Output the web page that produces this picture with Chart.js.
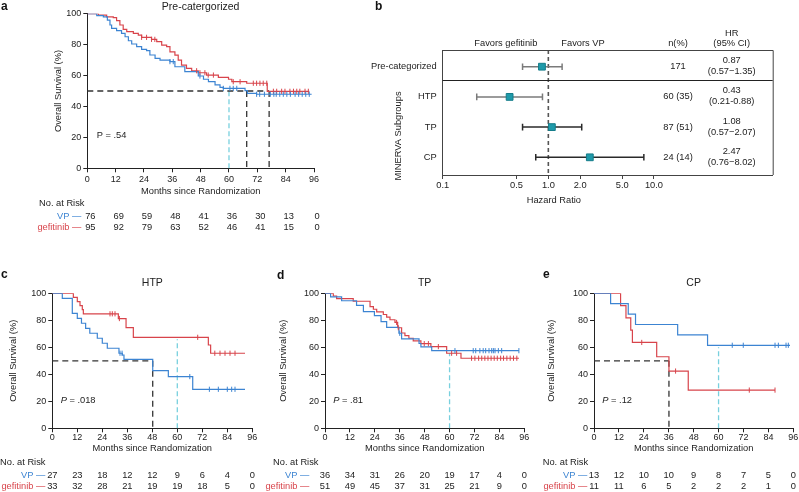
<!DOCTYPE html>
<html><head><meta charset="utf-8">
<script src="https://cdn.jsdelivr.net/npm/chart.js@4.4.1/dist/chart.umd.min.js"></script>
<style>
html,body{margin:0;padding:0;background:#fff;}
#wrap{position:relative;width:799px;height:492px;overflow:hidden;font-family:"Liberation Sans",Arial,sans-serif;}
canvas{position:absolute;}
.lbl{position:absolute;font-weight:bold;font-size:12px;color:#111;line-height:12px;}
</style></head><body>
<div id="wrap">
<canvas id="ca" width="360" height="240" style="left:0;top:0"></canvas>
<canvas id="cb" width="439" height="215" style="left:360px;top:0"></canvas>
<canvas id="cc" width="265" height="237" style="left:0;top:255px"></canvas>
<canvas id="cd" width="267" height="237" style="left:265px;top:255px"></canvas>
<canvas id="ce" width="267" height="237" style="left:532px;top:255px"></canvas>
<div class="lbl" style="left:1px;top:0px">a</div>
<div class="lbl" style="left:375px;top:0px">b</div>
<div class="lbl" style="left:1px;top:268px">c</div>
<div class="lbl" style="left:277px;top:269px">d</div>
<div class="lbl" style="left:543px;top:268px">e</div>
</div>
<script>
// ---------- DATA ----------
const riskMonths = [0, 12, 24, 36, 48, 60, 72, 84, 96];

// Panel a: Pre-categorized
const aVpTime  = [0, 4, 6.8, 8.5, 9.6, 10.3, 12.4, 14.5, 16, 17.4, 18.8, 20.9, 23, 25.1, 26.5, 28.7, 30.8, 35, 37.1, 41.3, 47, 49.2, 51.3, 54.1, 56.2, 57.6, 66.8, 67.8, 71.7, 95];
const aVpSurv  = [100, 98.7, 98, 95.9, 92.7, 90.5, 89, 87.3, 85.1, 82.5, 80.4, 78.7, 76.9, 76.1, 73.3, 71.1, 70, 69, 65.7, 62.5, 59.7, 57.6, 56, 53.9, 52.4, 51.7, 50.2, 48.5, 47.9, 47.9];
const aVpCens  = [35, 36.4, 47.7, 57.6, 60.4, 61.8, 63.3, 71.7, 73, 75, 77.5, 79, 80, 81.5, 83, 84.5, 86, 88, 89.5, 91, 92.5, 94];
const aGefTime = [0, 4.7, 8.2, 11, 12.4, 13.8, 15.2, 16.7, 19.5, 21.6, 23, 27.2, 29.4, 31.5, 33.6, 35, 37.1, 38.5, 39.9, 42, 44.2, 47, 50.5, 55.5, 59.8, 61.2, 67.5, 76.2, 94];
const aGefSurv = [100, 99.1, 98, 97.4, 95.5, 92.7, 89.9, 88.4, 87.3, 86.2, 84.7, 83.4, 81.9, 79.7, 78.7, 75.3, 73.2, 70, 66.8, 64.6, 63.1, 61.8, 60.3, 58.8, 57.6, 56, 55, 49.8, 49.8];
const aGefCens = [23, 25.1, 27.2, 28.6, 46.3, 47.7, 49.8, 51.2, 53.4, 61.8, 64.7, 70.3, 71.7, 73.1, 74.5, 76, 78.8, 80.2, 82.3, 83.7, 85.8, 87.3, 88.7, 90, 92.2, 93.6];
const aMedians = [67.5, 77];
const aFiveYearTop = 51.7;
const aRiskVP  = [76, 69, 59, 48, 41, 36, 30, 13, 0];
const aRiskGef = [95, 92, 79, 63, 52, 46, 41, 15, 0];

// Panel c: HTP
const cVpTime  = [0, 4.8, 9.6, 12, 14, 16, 18, 21.6, 24, 26.4, 32, 33.6, 34.4, 48.2, 55.7, 67.4, 92.5];
const cVpSurv  = [100, 96.3, 85.2, 81.5, 77.8, 74, 70.4, 66.7, 63, 59.3, 55.6, 54.3, 51.1, 42.7, 38.3, 28.9, 28.9];
const cVpCens  = [32.5, 33.5, 66, 75.4, 79.7, 84, 86.1, 87.7];
const cGefTime = [0, 10.1, 12, 13.3, 14.4, 14.9, 31.7, 35.4, 38.9, 74.9, 76, 92.5];
const cGefSurv = [100, 97, 93.9, 90.9, 87.9, 84.8, 81.3, 74.6, 67.4, 61.7, 55.6, 55.6];
const cGefCens = [27.7, 28.8, 30.1, 32.2, 69.8, 78, 80.5, 82.9, 85.3, 87.7];
const cMedians = [48.2];
const cFiveYearTop = 66;
const cRiskVP  = [27, 23, 18, 12, 12, 9, 6, 4, 0];
const cRiskGef = [33, 32, 28, 21, 19, 19, 18, 5, 0];

// Panel d: TP
const dVpTime  = [0, 2.7, 8, 15.2, 18.5, 23.8, 27, 29.7, 35.6, 36.9, 45.3, 46.2, 51.4, 93.4];
const dVpSurv  = [100, 97.3, 94.5, 91.0, 86.4, 83.5, 79.0, 74.8, 70.4, 66.2, 62.8, 60.3, 57.5, 57.5];
const dVpCens  = [36, 62.6, 71.4, 72.6, 74.6, 76.2, 77.4, 79, 80.3, 81.1, 81.9, 83.5, 85.1, 93.4];
const dGefTime = [0, 4, 5.6, 13.6, 21.7, 23.3, 24.9, 28.1, 29.7, 31.3, 33.7, 35, 36.9, 38.5, 40.4, 42.5, 46.2, 51, 58.6, 65.5, 93.4];
const dGefSurv = [100, 98, 96.1, 94.1, 90.2, 88.2, 86.3, 84.3, 82.4, 80.4, 78.4, 74.5, 70.6, 68.6, 66.7, 64.7, 62.7, 60.5, 55.6, 51.9, 51.9];
const dGefCens = [34.5, 35.3, 47.8, 49.8, 54.6, 61, 63.4, 70.6, 72.2, 74, 75.5, 77, 78.5, 80, 81.5, 83, 84.6, 86, 87.6, 89.2, 90.8, 92.4];
const dMedians = [];
const dFiveYearTop = 55.6;
const dRiskVP  = [36, 34, 31, 26, 20, 19, 17, 4, 0];
const dRiskGef = [51, 49, 45, 37, 31, 25, 21, 9, 0];

// Panel e: CP
const eVpTime  = [0, 8, 16.5, 20, 40.3, 54.7, 94.4];
const eVpSurv  = [100, 92.3, 84.6, 76.9, 69.2, 61.5, 61.5];
const eVpCens  = [66.6, 71.9, 87.2, 88.8, 92.5, 93.6];
const eGefTime = [0, 12.8, 15.4, 17.7, 18.5, 30.2, 36.1, 45.4, 87.2];
const eGefSurv = [100, 90.9, 81.8, 72.7, 63.6, 53, 42.4, 28.3, 28.3];
const eGefCens = [23, 39.3, 74.8, 87.2];
const eMedians = [36.1];
const eFiveYearTop = 60;
const eRiskVP  = [13, 12, 10, 10, 9, 8, 7, 5, 0];
const eRiskGef = [11, 11, 6, 5, 2, 2, 2, 1, 0];

// Panel b: forest plot
const fLabels = ['Pre-categorized', 'HTP', 'TP', 'CP'];
const fHR     = [0.87, 0.43, 1.08, 2.47];
const fLo     = [0.57, 0.21, 0.57, 0.76];
const fHi     = [1.35, 0.88, 2.07, 8.02];
const fN      = ['171', '60 (35)', '87 (51)', '24 (14)'];
const fHRText = ['0.87', '0.43', '1.08', '2.47'];
const fCIText = ['(0.57\u22121.35)', '(0.21-0.88)', '(0.57\u22122.07)', '(0.76\u22128.02)'];
const fTicks  = [0.1, 0.5, 1, 2, 5, 10];

// ---------- STYLE ----------
const FONT = '"Liberation Sans", Arial, sans-serif';
const BLUE = '#3c84d2', RED = '#d8444b', CYAN = '#78d0de', DARK = '#333';
Chart.defaults.font.family = FONT;
Chart.defaults.color = '#222';

const pts = (t, s) => t.map((v, i) => ({x: v, y: s[i]}));
function survAt(t, s, time) { let v = s[0]; for (let i = 0; i < t.length; i++) { if (t[i] <= time) v = s[i]; } return v; }

function km(id, o) {
  const ds = [];
  ds.push({data: pts(o.vpT, o.vpS), borderColor: BLUE, borderWidth: 1.2, stepped: 'before', pointRadius: 0, order: 1});
  ds.push({data: pts(o.gefT, o.gefS), borderColor: RED, borderWidth: 1.2, stepped: 'before', pointRadius: 0, order: 1});
  ds.push({data: o.vpC.map(t => ({x: t, y: survAt(o.vpT, o.vpS, t)})), showLine: false, pointStyle: 'line', rotation: 90, pointRadius: 2.6, borderColor: BLUE, pointBorderColor: BLUE, pointBorderWidth: 1, order: 0});
  ds.push({data: o.gefC.map(t => ({x: t, y: survAt(o.gefT, o.gefS, t)})), showLine: false, pointStyle: 'line', rotation: 90, pointRadius: 2.6, borderColor: RED, pointBorderColor: RED, pointBorderWidth: 1, order: 0});
  if (o.medians.length) {
    ds.push({data: [{x: 0, y: 50}, {x: Math.max(...o.medians), y: 50}], borderColor: DARK, borderWidth: 1.3, borderDash: [6, 4], pointRadius: 0, order: 2});
    o.medians.forEach(m => ds.push({data: [{x: m, y: 50}, {x: m, y: 0}], borderColor: DARK, borderWidth: 1.3, borderDash: [6, 4], pointRadius: 0, order: 2}));
  }
  ds.push({data: [{x: 60, y: 0}, {x: 60, y: o.five}], borderColor: CYAN, borderWidth: 1.3, borderDash: [5, 3], pointRadius: 0, order: 2});

  const plug = {id: 'km' + id, afterDraw(chart) {
    const c = chart.ctx, ca = chart.chartArea, xs = chart.scales.x, ys = chart.scales.y;
    const mid = (ca.left + ca.right) / 2;
    c.save();
    c.fillStyle = '#222'; c.textAlign = 'center'; c.textBaseline = 'middle';
    c.font = '10.5px ' + FONT;
    c.fillText(o.title, mid, ca.top + o.titleDy);
    c.font = '9.3px ' + FONT;
    c.fillText('Months since Randomization', mid, ca.bottom + o.xTitleDy);
    c.save(); c.translate(ca.left + o.yTitleDx, (ca.top + ca.bottom) / 2); c.rotate(-Math.PI / 2);
    c.fillText('Overall Survival (%)', 0, 0); c.restore();
    // P value
    const px = xs.getPixelForValue(4), py = ys.getPixelForValue(21);
    c.textAlign = 'left';
    if (o.pItalic) {
      c.font = 'italic 9.3px ' + FONT; c.fillText('P', px, py);
      const w = c.measureText('P').width;
      c.font = '9.3px ' + FONT; c.fillText(' = ' + o.pText, px + w, py);
    } else { c.fillText('P = ' + o.pText, px, py); }
    // risk table
    c.fillText('No. at Risk', ca.left + o.noRiskDx, ca.bottom + o.rowDy[0]);
    c.textAlign = 'right';
    c.fillStyle = BLUE; c.fillText('VP \u2014', ca.left + o.rowLabelDx, ca.bottom + o.rowDy[1]);
    c.fillStyle = RED; c.fillText('gefitinib \u2014', ca.left + o.rowLabelDx, ca.bottom + o.rowDy[2]);
    c.textAlign = 'center'; c.fillStyle = '#222';
    riskMonths.forEach((m, i) => {
      const x = xs.getPixelForValue(m) + o.numDx;
      c.fillText(String(o.riskVP[i]), x, ca.bottom + o.rowDy[1]);
      c.fillText(String(o.riskGef[i]), x, ca.bottom + o.rowDy[2]);
    });
    c.restore();
  }};

  new Chart(document.getElementById(id), {
    type: 'line',
    data: {datasets: ds},
    plugins: [plug],
    options: {
      responsive: false, animation: false, devicePixelRatio: 1, events: [],
      layout: {padding: {left: 0, top: o.pt, right: o.pr, bottom: o.pb}},
      plugins: {legend: {display: false}, tooltip: {enabled: false}},
      scales: {
        x: {type: 'linear', min: 0, max: 96,
            afterFit: s => { s.height = 30; },
            ticks: {stepSize: 12, font: {size: 9}, color: '#222', padding: o.xTickPad, maxRotation: 0, autoSkip: false},
            grid: {drawOnChartArea: false, drawTicks: true, tickLength: 4, color: '#222'},
            border: {color: '#222', width: 1}},
        y: {min: 0, max: 100,
            afterFit: s => { s.width = o.yw; },
            ticks: {stepSize: 20, font: {size: 9}, color: '#222', padding: 2},
            grid: {drawOnChartArea: false, drawTicks: true, tickLength: 4, color: '#222'},
            border: {color: '#222', width: 1}}
      }
    }
  });
}

km('ca', {vpT: aVpTime, vpS: aVpSurv, vpC: aVpCens, gefT: aGefTime, gefS: aGefSurv, gefC: aGefCens,
  medians: aMedians, five: aFiveYearTop, riskVP: aRiskVP, riskGef: aRiskGef,
  title: 'Pre-catergorized', pText: '.54', pItalic: false,
  yw: 87.3, pt: 13.7, pr: 46, pb: 41.7, xTickPad: 2,
  titleDy: -6.7, xTitleDy: 23.4, yTitleDx: -29.3, noRiskDx: -48.3, rowLabelDx: -6, rowDy: [35, 48.4, 59], numDx: 3});
km('cc', {vpT: cVpTime, vpS: cVpSurv, vpC: cVpCens, gefT: cGefTime, gefS: cGefSurv, gefC: cGefCens,
  medians: cMedians, five: cFiveYearTop, riskVP: cRiskVP, riskGef: cRiskGef,
  title: 'HTP', pText: '.018', pItalic: true,
  yw: 52.3, pt: 38.3, pr: 12.7, pb: 33.7, xTickPad: 0,
  titleDy: -10.3, xTitleDy: 20, yTitleDx: -39, noRiskDx: -52.3, rowLabelDx: -7, rowDy: [34, 47.4, 58.4], numDx: 0});
km('cd', {vpT: dVpTime, vpS: dVpSurv, vpC: dVpCens, gefT: dGefTime, gefS: dGefSurv, gefC: dGefCens,
  medians: dMedians, five: dFiveYearTop, riskVP: dRiskVP, riskGef: dRiskGef,
  title: 'TP', pText: '.81', pItalic: true,
  yw: 60, pt: 38.3, pr: 7.7, pb: 33.7, xTickPad: 0,
  titleDy: -10.3, xTitleDy: 20, yTitleDx: -41.7, noRiskDx: -52, rowLabelDx: -15.7, rowDy: [34, 47.4, 58.4], numDx: 0});
km('ce', {vpT: eVpTime, vpS: eVpSurv, vpC: eVpCens, gefT: eGefTime, gefS: eGefSurv, gefC: eGefCens,
  medians: eMedians, five: eFiveYearTop, riskVP: eRiskVP, riskGef: eRiskGef,
  title: 'CP', pText: '.12', pItalic: true,
  yw: 62, pt: 38.3, pr: 5.7, pb: 33.7, xTickPad: 0,
  titleDy: -10.3, xTitleDy: 20, yTitleDx: -42.3, noRiskDx: -51.3, rowLabelDx: -6.7, rowDy: [34, 47.4, 58.4], numDx: 0});

// ---------- Forest plot ----------
(function () {
  const yMin = 0.447, yMax = 4.586, sepValue = 1.44;
  const ciColors = ['#7a7a7a', '#7a7a7a', '#2a2a2a', '#2a2a2a'];
  const ds = [];
  ds.push({data: [{x: 1, y: yMin}, {x: 1, y: yMax}], borderColor: '#555', borderWidth: 1.6, borderDash: [4, 3], pointRadius: 0, order: 2});
  fLabels.forEach((l, i) => ds.push({
    data: [{x: fLo[i], y: i + 1}, {x: fHi[i], y: i + 1}],
    borderColor: ciColors[i], borderWidth: 1.5, pointStyle: 'line', rotation: 90, pointRadius: 3.3,
    pointBorderColor: ciColors[i], pointBorderWidth: 1.5, order: 1}));
  ds.push({data: fHR.map((v, i) => ({x: v, y: i + 1})), showLine: false, pointStyle: 'rect', pointRadius: 4.8,
    pointBackgroundColor: '#1f9aaa', pointBorderColor: '#157d8a', pointBorderWidth: 1, order: 0});

  const plug = {id: 'forest', afterDraw(chart) {
    const c = chart.ctx, ca = chart.chartArea, xs = chart.scales.x, ys = chart.scales.y;
    c.save();
    c.strokeStyle = '#444'; c.lineWidth = 1;
    c.beginPath();
    c.moveTo(ca.left, ca.top + 0.5); c.lineTo(ca.right + 0.5, ca.top + 0.5); c.lineTo(ca.right + 0.5, ca.bottom);
    c.stroke();
    const sy = Math.round(ys.getPixelForValue(sepValue)) + 0.5;
    c.strokeStyle = '#222';
    c.beginPath(); c.moveTo(ca.left, sy); c.lineTo(ca.right, sy); c.stroke();
    c.fillStyle = '#222'; c.font = '9.3px ' + FONT; c.textBaseline = 'middle';
    const x1 = xs.getPixelForValue(1);
    c.textAlign = 'right'; c.fillText('Favors gefitinib', x1 - 11, ca.top - 7);
    c.textAlign = 'left'; c.fillText('Favors VP', x1 + 13, ca.top - 7);
    c.textAlign = 'center';
    const nX = ca.left + 235.3, hrX = ca.left + 289;
    c.fillText('n(%)', nX, ca.top - 7);
    c.fillText('HR', hrX, ca.top - 17);
    c.fillText('(95% CI)', hrX, ca.top - 7);
    fLabels.forEach((l, i) => {
      const y = ys.getPixelForValue(i + 1);
      c.fillText(fN[i], nX, y);
      c.fillText(fHRText[i], hrX, y - 6);
      c.fillText(fCIText[i], hrX, y + 5);
    });
    c.fillText('Hazard Ratio', x1 + 5.5, ca.bottom + 25);
    c.save(); c.translate(ca.left - 44.7, ca.top + 86); c.rotate(-Math.PI / 2);
    c.fillText('MINERVA Subgroups', 0, 0); c.restore();
    c.restore();
  }};

  new Chart(document.getElementById('cb'), {
    type: 'line',
    data: {datasets: ds},
    plugins: [plug],
    options: {
      responsive: false, animation: false, devicePixelRatio: 1, events: [],
      layout: {padding: {left: 0, top: 50, right: 26.3, bottom: 10}},
      plugins: {legend: {display: false}, tooltip: {enabled: false}},
      scales: {
        x: {type: 'logarithmic', min: 0.1, max: 133,
            afterFit: s => { s.height = 30; },
            afterBuildTicks: s => { s.ticks = fTicks.map(v => ({value: v})); },
            ticks: {font: {size: 9.3}, color: '#222', padding: 1, autoSkip: false, maxRotation: 0,
                    callback: v => Number(v).toFixed(1)},
            grid: {drawOnChartArea: false, drawTicks: true, tickLength: 4, color: '#444'},
            border: {color: '#444', width: 1}},
        y: {type: 'linear', min: yMin, max: yMax, reverse: true,
            afterFit: s => { s.width = 82.7; },
            afterBuildTicks: s => { s.ticks = fLabels.map((l, i) => ({value: i + 1})); },
            ticks: {font: {size: 9.3}, color: '#222', padding: 6, autoSkip: false,
                    callback: v => fLabels[Math.round(v) - 1] || ''},
            grid: {drawOnChartArea: false, drawTicks: false},
            border: {color: '#444', width: 1}}
      }
    }
  });
})();
</script>
</body></html>
